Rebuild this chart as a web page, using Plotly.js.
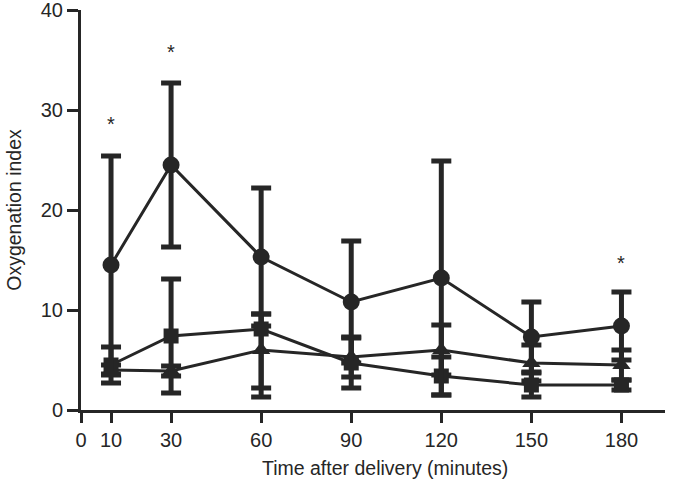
<!DOCTYPE html>
<html>
<head>
<meta charset="utf-8">
<script src="https://cdn.plot.ly/plotly-3.0.1.min.js"></script>
<style>html,body{margin:0;padding:0;background:#fff;}#chart{width:685px;height:488px;}</style>
</head>
<body>
<div id="chart"></div>
<script>
const times = [10, 30, 60, 90, 120, 150, 180];
const tickValues = [0, 10, 30, 60, 90, 120, 150, 180];
const tickLabels = ["0", "10", "30", "60", "90", "120", "150", "180"];

const circleMean  = [14.5, 24.5, 15.3, 10.8, 13.2, 7.3, 8.4];
const circlePlus  = [10.9, 8.2, 6.9, 6.1, 11.7, 3.5, 3.4];
const circleMinus = [10.9, 8.2, 6.9, 6.1, 11.7, 3.5, 3.4];

const squareMean  = [4.5, 7.4, 8.1, 4.7, 3.4, 2.5, 2.5];
const squarePlus  = [1.8, 5.7, 1.5, 2.5, 1.9, 1.2, 0.5];
const squareMinus = [1.8, 5.7, 5.9, 2.5, 1.9, 1.2, 0.5];

const triMean  = [4.0, 3.9, 6.0, 5.3, 6.0, 4.7, 4.5];
const triPlus  = [0.5, 0.5, 3.6, 2.0, 2.5, 1.8, 1.5];
const triMinus = [0.5, 0.5, 4.7, 2.0, 2.5, 1.8, 1.5];

const starX = [10, 30, 180];
const starY = [28.6, 35.8, 14.7];

const xTitle = 'Time after delivery (minutes)';
const yTitle = 'Oxygenation index';

const ink = '#262626';
const font = 'Liberation Sans, Arial, Helvetica, sans-serif';

function series(y, plus, minus, symbol, size) {
  return {
    x: times, y: y, type: 'scatter', mode: 'lines+markers',
    line: {color: ink, width: 3},
    marker: {symbol: symbol, size: size, color: ink},
    error_y: {type: 'data', symmetric: false, array: plus, arrayminus: minus,
              color: ink, thickness: 5, width: 10},
    showlegend: false, cliponaxis: false
  };
}

const data = [
  series(triMean, triPlus, triMinus, 'triangle-up', 16),
  series(squareMean, squarePlus, squareMinus, 'square', 15),
  series(circleMean, circlePlus, circleMinus, 'circle', 17)
];

const annotations = starX.map((x, i) => ({
  x: x, y: starY[i], xref: 'x', yref: 'y', text: '*', showarrow: false,
  font: {family: font, size: 20, color: ink}
}));
annotations.push({
  x: 0.52, y: -0.145, xref: 'paper', yref: 'paper', xanchor: 'center', yanchor: 'middle',
  text: xTitle, showarrow: false, font: {family: font, size: 19.5, color: ink}
});

const layout = {
  width: 685, height: 488,
  margin: {l: 81, r: 20, t: 10, b: 78},
  paper_bgcolor: '#fff', plot_bgcolor: '#fff',
  font: {family: font, size: 20, color: ink},
  xaxis: {
    range: [0, 194.5], tickvals: tickValues, ticktext: tickLabels,
    ticks: 'outside', ticklen: 10, tickwidth: 3, tickcolor: ink,
    showline: true, linewidth: 3, linecolor: ink, showgrid: false, zeroline: false,
    ticklabeloverflow: 'allow',
    tickfont: {family: font, size: 20, color: ink}
  },
  yaxis: {
    range: [0, 40], tickvals: [0, 10, 20, 30, 40],
    ticks: 'outside', ticklen: 11, tickwidth: 3, tickcolor: ink,
    showline: true, linewidth: 3, linecolor: ink, showgrid: false, zeroline: false,
    ticklabeloverflow: 'allow',
    tickfont: {family: font, size: 20, color: ink},
    title: {text: yTitle, font: {family: font, size: 19.5, color: ink}, standoff: 14}
  },
  annotations: annotations
};

Plotly.newPlot('chart', data, layout, {staticPlot: true, displayModeBar: false});
</script>
</body>
</html>
